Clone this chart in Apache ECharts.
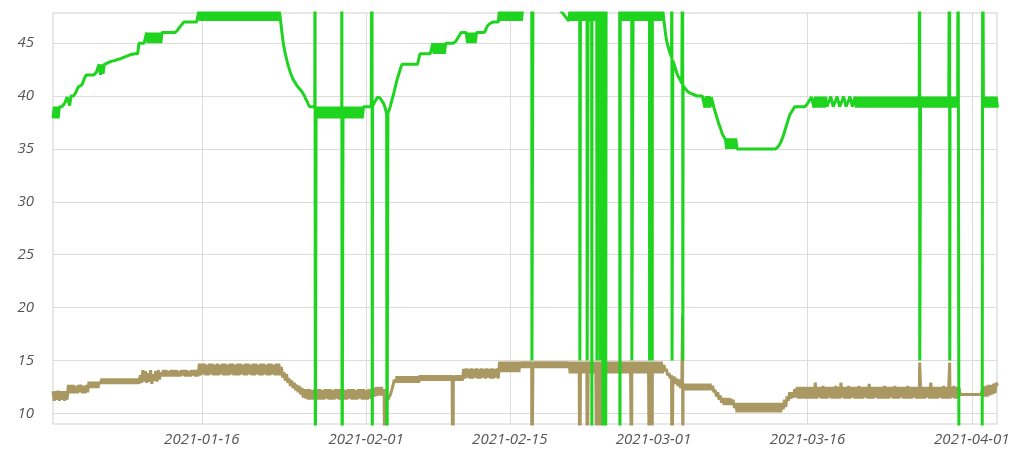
<!DOCTYPE html>
<html>
<head>
<meta charset="utf-8">
<script src="https://cdn.jsdelivr.net/npm/echarts@6/dist/echarts.min.js"></script>
<style>html,body{margin:0;padding:0;background:#fff}#c{width:1036px;height:453px}</style>
</head>
<body>
<div id="c"></div>
<script>
// Samples: day offsets from 2021-01-01, regular step (each row = 2 days)
const sampleStartDay = 0.5;
const sampleStepDays = 0.125;

const greenValues = [
 37.9,39,37.9,39,37.9,39,39,39,39,39.3,39.6,39.9,40,39.1,40,40,
 40,40.2,40.4,40.7,40.9,41,41,41.2,41.5,41.8,42,42,42,42,42,42,
 42,42,42.3,42.7,43,42,43,42.1,43,43.1,43.1,43.2,43.2,43.25,43.3,43.3,
 43.35,43.4,43.45,43.5,43.5,43.55,43.6,43.65,43.7,43.75,43.8,43.85,43.9,43.9,43.95,44,
 44,44,44,45,45,45,45,45,45,46,45,46,45,46,45,46,
 45,46,45,46,45,46,46,46,46,46,46,46,46,46,46,46,
 46.05,46.2,46.4,46.55,46.7,46.85,47,47,47,47,47,47,47,47,47,47,
 47,47.1,48.3,47.1,48.3,47.1,48.3,47.1,48.3,47.1,48.3,47.1,48.3,47.1,48.3,47.1,
 48.3,47.1,48.3,47.1,48.3,47.1,48.3,47.1,48.3,47.1,48.3,47.1,48.3,47.1,48.3,47.1,
 48.3,47.1,48.3,47.1,48.3,47.1,48.3,47.1,48.3,47.1,48.3,47.1,48.3,47.1,48.3,47.1,
 48.3,47.1,48.3,47.1,48.3,47.1,48.3,47.1,48.3,47.1,48.3,47.1,48.3,47.1,48.3,47.1,
 48.3,47.5,46.4,45.4,44.6,44.0,43.5,43.0,42.6,42.2,41.9,41.6,41.4,41.2,41.0,40.85,
 40.7,40.55,40.4,40.2,40.0,39.7,39.5,39.2,39,39,39,39,39,37.9,39,37.9,
 39,37.9,39,37.9,39,37.9,39,37.9,39,37.9,39,37.9,39,37.9,39,37.9,
 39,37.9,39,37.9,39,37.9,39,37.9,39,37.9,39,37.9,39,37.9,39,37.9,
 39,37.9,39,39,39,39,39,39,39,39,39.3,39.5,39.7,39.9,40,39.8,
 39.6,39.4,39.2,38.8,38.3,38.4,38.7,39.1,39.6,40.0,40.5,41.0,41.5,41.9,42.3,42.7,
 43,43,43,43,43,43,43,43,43,43,43,43,43,43,44,44,
 44,44,44,44,44,44,44,44,45,44,45,44,45,44,45,44,
 45,44,45,45,45,45,45,45,45,45,45.2,45.4,45.6,45.8,46,46,
 46,46,46,45,46,45,46,45,46,45,46,46,46,46,46,46,
 46,46.2,46.5,46.7,46.8,46.9,47,47,47,47,47,47,48.3,47.1,48.3,47.1,
 48.3,47.1,48.3,47.1,48.3,47.1,48.3,47.1,48.3,47.1,48.3,47.1,48.3,47.1,48.3,49,
 49,49,49,49,49,49,49,49,49,49,49,49,49,49,49,49,
 49,49,49,49,49,49,49,49,49,49,49,49,48.0,47.85,47.7,47.55,
 47.4,47.25,47.1,48.3,47.1,48.3,47.1,48.3,47.1,48.3,47.1,48.3,47.1,48.3,47.1,48.3,
 47.1,48.3,47.1,48.3,47.1,48.3,47.1,48.3,47.1,48.3,47.1,48.3,47.1,48.3,47.1,48.3,
 49,49,49,49,49,49,49,49,49,49,47.1,48.3,47.1,48.3,47.1,48.3,
 47.1,48.3,47.1,48.3,47.1,48.3,47.1,48.3,47.1,48.3,47.1,48.3,47.1,48.3,47.1,48.3,
 47.1,48.3,47.1,48.3,47.1,48.3,47.1,48.3,47.1,48.3,47.1,48.3,47.2,46.2,45.3,44.8,
 44.4,44.0,43.7,43.35,43.0,42.6,42.2,41.9,41.7,41.45,41.2,41.0,40.8,40.65,40.5,40.4,
 40.3,40.25,40.2,40.15,40.1,40.05,40,40,40,40,40,40,38.9,40,38.9,40,
 38.9,39.9,39.4,38.9,38.5,38.1,37.7,37.3,37.0,36.6,36.3,36.1,35.9,35.0,36,35.0,
 36,35,36,35,36,35,35,35,35,35,35,35,35,35,35,35,
 35,35,35,35,35,35,35,35,35,35,35,35,35,35,35,35,
 35,35,35,35,35,35.2,35.4,35.6,35.9,36.2,36.6,37.0,37.4,37.8,38.2,38.4,
 38.6,38.8,39,39,39,39,39,39,39,39,39,39,39.3,39.5,39.7,39.9,
 40,38.9,39.95,38.9,39.95,38.9,39.95,38.9,39.95,38.9,39.95,39.0,39.3,39.6,39.95,39.95,
 39.0,39.3,39.6,39.95,39.95,39.0,39.3,39.6,39.95,39.95,39.0,39.3,39.6,39.95,39.95,39.0,
 39.5,39.95,38.9,39.95,38.9,39.95,38.9,39.95,38.9,39.95,38.9,39.95,38.9,39.95,38.9,39.95,
 38.9,39.95,38.9,39.95,38.9,39.95,38.9,39.95,38.9,39.95,38.9,39.95,38.9,39.95,38.9,39.95,
 38.9,39.95,38.9,39.95,38.9,39.95,38.9,39.95,38.9,39.95,38.9,39.95,38.9,39.95,38.9,39.95,
 38.9,39.95,38.9,39.95,38.9,39.95,38.9,39.95,38.9,39.95,38.9,39.95,38.9,39.95,38.9,39.95,
 38.9,39.95,38.9,39.95,38.9,39.95,38.9,39.95,38.9,39.95,38.9,39.95,38.9,39.95,38.9,39.95,
 38.9,39.95,0,0,0,0,0,0,0,0,0,0,0,0,0,0,
 0,0,0,0,0,39.95,38.9,39.95,38.9,39.95,38.9,39.95,38.9,39.95,38.9,39.95,
 38.9
];

const tanValues = [
 12.1,11.2,12.1,11.3,12.15,11.2,12.1,11.3,12.1,11.2,12.1,11.3,12.7,11.9,12.7,11.9,
 12.7,11.9,12.6,11.9,12.7,12.0,12.7,11.9,12.6,11.9,12.7,12.0,13.0,12.4,13.0,12.4,
 13.0,12.4,13.0,12.4,13.0,12.8,13.3,12.8,13.3,12.8,13.3,12.8,13.3,12.8,13.3,12.8,
 13.3,12.8,13.3,12.8,13.3,12.8,13.3,12.8,13.3,12.8,13.3,12.8,13.3,12.8,13.3,12.8,
 13.3,12.8,13.3,12.8,13.6,12.9,14.1,13.0,14.0,12.9,13.8,13.0,14.1,12.8,13.7,13.1,
 14.0,13.0,14.1,13.2,13.9,13.5,14.1,13.5,14.1,13.5,14.0,13.5,14.1,13.5,14.1,13.5,
 14.1,13.5,14.0,13.5,14.1,13.6,14.1,13.5,14.1,13.5,14.0,13.5,14.1,13.6,14.1,13.5,
 14.1,13.5,14.7,13.6,14.7,13.7,14.7,13.6,14.6,13.6,14.7,13.7,14.7,13.6,14.6,13.6,
 14.7,13.6,14.6,13.7,14.7,13.6,14.7,13.6,14.6,13.6,14.7,13.7,14.7,13.6,14.6,13.6,
 14.7,13.6,14.7,13.7,14.6,13.6,14.7,13.6,14.7,13.7,14.6,13.6,14.7,13.6,14.7,13.7,
 14.6,13.6,14.7,13.6,14.7,13.7,14.6,13.6,14.7,13.6,14.7,13.7,14.6,13.6,14.7,13.6,
 14.7,13.6,14.4,13.4,13.9,13.1,13.7,12.9,13.3,12.6,13.1,12.4,12.9,12.2,12.7,12.0,
 12.6,11.8,12.4,11.5,12.3,11.4,12.3,11.3,12.3,11.3,12.2,11.3,12.3,11.4,12.3,11.3,
 12.3,11.3,12.2,11.3,12.3,11.4,12.3,11.3,12.3,11.3,12.2,11.3,12.3,11.4,12.3,11.3,
 12.3,11.3,12.3,11.3,12.2,11.3,12.3,11.4,12.3,11.3,12.3,11.3,12.2,11.3,12.3,11.4,
 12.3,11.3,12.3,11.3,12.2,11.3,12.3,11.4,12.3,11.5,12.4,11.6,12.5,11.7,12.5,11.7,
 12.5,11.7,12.3,11.6,11.6,11.3,11.4,11.8,12.2,12.7,13.2,12.9,13.5,12.9,13.5,12.9,
 13.5,12.9,13.5,12.9,13.5,12.9,13.5,12.9,13.5,12.9,13.5,12.9,13.5,12.9,13.6,13.1,
 13.6,13.1,13.6,13.1,13.6,13.1,13.6,13.1,13.6,13.1,13.6,13.1,13.6,13.1,13.6,13.1,
 13.6,13.1,13.6,13.1,13.6,13.1,13.6,13.1,13.6,13.1,13.6,13.1,13.6,13.1,13.6,13.1,
 14.2,13.3,14.25,13.4,14.2,13.3,14.25,13.3,14.2,13.4,14.25,13.3,14.2,13.3,14.25,13.4,
 14.2,13.3,14.25,13.4,14.2,13.3,14.25,13.3,14.2,13.4,14.25,13.3,14.9,13.9,14.9,13.9,
 14.9,13.9,14.9,13.9,14.9,13.9,14.9,13.9,14.9,13.9,14.9,13.9,14.9,14.3,14.9,14.3,
 14.9,14.3,14.9,14.3,14.9,14.3,14.9,14.3,14.9,14.3,14.9,14.3,14.9,14.3,14.9,14.3,
 14.9,14.3,14.9,14.3,14.9,14.3,14.9,14.3,14.9,14.3,14.9,14.3,14.9,14.3,14.9,14.3,
 14.9,14.3,14.9,13.8,14.9,13.8,14.9,13.8,14.9,13.8,14.9,13.8,14.9,13.8,14.9,13.8,
 14.9,13.8,14.9,13.8,14.9,13.8,14.9,13.8,14.9,13.8,14.9,13.8,14.9,13.8,14.9,13.8,
 14.9,13.8,14.9,13.8,14.9,13.8,14.9,13.8,14.9,13.8,14.9,13.8,14.9,13.8,14.9,13.8,
 14.9,13.8,14.9,13.8,14.9,13.8,14.9,13.8,14.9,13.8,14.9,13.8,14.9,13.8,14.9,13.8,
 14.9,13.8,14.9,13.8,14.9,13.8,14.9,13.8,14.9,13.8,14.9,13.8,14.6,14.0,14.2,13.6,
 13.8,13.3,13.6,13.0,13.5,12.8,13.3,12.6,13.2,12.4,13.0,12.3,12.8,12.2,12.8,12.2,
 12.8,12.2,12.8,12.2,12.8,12.2,12.8,12.2,12.8,12.2,12.8,12.2,12.8,12.2,12.8,12.2,
 12.8,12.2,12.6,12.0,12.2,11.6,12.0,11.3,11.7,11.0,11.45,10.8,11.45,10.8,11.45,10.8,
 11.4,10.8,11.3,10.5,11.0,10.1,11.0,10.1,11.0,10.1,11.0,10.1,11.0,10.1,11.0,10.1,
 11.0,10.1,11.0,10.1,11.0,10.1,11.0,10.1,11.0,10.1,11.0,10.1,11.0,10.1,11.0,10.1,
 11.0,10.1,11.0,10.1,11.0,10.1,11.0,10.1,11.0,10.4,11.3,10.6,11.6,11.2,12.0,11.4,
 12.0,11.5,12.3,11.5,12.5,11.4,12.5,11.4,12.5,11.4,12.5,11.4,12.5,11.4,12.5,11.4,
 12.5,11.4,12.9,11.4,12.5,11.5,12.5,11.4,12.6,11.4,12.5,11.4,12.5,11.5,12.5,11.4,
 12.5,11.4,12.6,11.4,12.5,11.4,12.9,11.5,12.5,11.4,12.5,11.4,12.6,11.4,12.5,11.5,
 12.5,11.4,12.5,11.4,12.6,11.4,12.5,11.4,12.5,11.5,12.5,11.4,12.8,11.4,12.5,11.4,
 12.5,11.5,12.5,11.4,12.5,11.4,12.5,11.4,12.6,11.4,12.5,11.4,12.5,11.5,12.5,11.4,
 12.6,11.4,12.5,11.4,12.5,11.5,12.5,11.4,12.5,11.4,12.6,11.4,12.5,11.4,12.5,11.5,
 12.5,11.4,12.5,11.4,12.6,11.4,12.5,11.4,12.5,11.5,12.5,11.4,12.9,11.4,12.5,11.4,
 12.5,11.4,12.5,11.5,12.5,11.4,12.6,11.4,12.5,11.4,12.5,11.4,12.5,11.5,12.6,11.4,
 12.5,11.4,12.4,11.8,11.8,11.8,11.8,11.8,11.8,11.8,11.8,11.8,11.8,11.8,11.8,11.8,
 11.8,11.8,11.8,11.8,11.8,12.5,11.6,12.6,11.6,12.7,11.7,12.7,11.8,12.8,11.9,12.9,
 12.6
];

// Glitch readings: [day offset, value]
const greenSpikes = [
 [26.02,60],[26.05,0],
 [28.63,60],[28.66,0],
 [31.57,60],[31.6,0],
 [33.03,0],
 [47.13,60],[47.15,15],
 [51.8,60],[51.82,15],
 [52.51,60],[52.53,15],
 [52.96,60],[52.99,0],
 [53.46,60],[53.48,15],
 [53.77,60],[53.79,15],
 [54.05,60],[54.08,0],
 [54.3,60],[54.33,0],
 [55.69,60],[55.72,0],
 [56.86,60],[56.88,15],
 [58.6,60],[58.61,15],
 [58.84,60],[58.86,15],
 [60.78,60],[60.8,15],
 [61.83,60],[61.85,15],
 [84.91,60],[84.93,15],
 [87.83,60],[87.85,15],
 [88.66,60],
 [91.06,60]
];
const tanSpikes = [
 [32.84,0],[39.45,0],[47.14,0],[51.81,0],[52.52,0],[53.47,0],[53.78,0],
 [56.87,0],[58.605,0],[58.85,0],[60.79,0],[61.82,19.3],[61.845,0],
 [84.92,14.8],[87.84,14.8]
];

const xTickDates = ['2021-01-16','2021-02-01','2021-02-15','2021-03-01','2021-03-16','2021-04-01'];
const yTickValues = [10,15,20,25,30,35,40,45];
const axisStartDay = 0.5, axisEndDay = 92.45;
const yMin = 9, yMax = 47.85;

const DAY = 86400000;
const base = new Date(2021, 0, 1).getTime();
const toTime = d => base + d * DAY;
const parseDate = s => { const p = s.split('-').map(Number); return new Date(p[0], p[1]-1, p[2]).getTime(); };
function build(values, spikes) {
  const pts = values.map((v, i) => [sampleStartDay + i * sampleStepDays, v]);
  spikes.forEach(p => pts.push(p));
  pts.sort((a, b) => a[0] - b[0]);
  return pts.map(p => [toTime(p[0]), p[1]]);
}
const pad = n => (n < 10 ? '0' : '') + n;
const fmtDate = v => { const d = new Date(Math.round(v)); return d.getFullYear() + '-' + pad(d.getMonth()+1) + '-' + pad(d.getDate()); };

const xTicks = xTickDates.map(parseDate);
const labelStyle = { color: '#555', fontStyle: 'italic', fontFamily: 'Open Sans', fontSize: 15 };
const gridLine = { show: true, lineStyle: { color: '#dcdcdc', width: 1 } };

const chart = echarts.init(document.getElementById('c'), null, { renderer: 'canvas' });
chart.setOption({
  animation: false,
  backgroundColor: '#fff',
  grid: { left: 53, right: 39, top: 13, bottom: 29, show: true, borderColor: '#cfcfcf', borderWidth: 1, containLabel: false, outerBoundsMode: 'none' },
  xAxis: {
    type: 'value', min: toTime(axisStartDay), max: toTime(axisEndDay), scale: true,
    axisLine: { show: false },
    axisTick: { show: false, customValues: xTicks },
    axisLabel: Object.assign({ customValues: xTicks, formatter: fmtDate, margin: 8 }, labelStyle),
    splitLine: gridLine
  },
  yAxis: {
    type: 'value', min: yMin, max: yMax,
    axisLine: { show: false },
    axisTick: { show: false, customValues: yTickValues },
    axisLabel: Object.assign({ customValues: yTickValues, margin: 19 }, labelStyle),
    splitLine: gridLine
  },
  series: [
    { type: 'line', name: 'tan', data: build(tanValues, tanSpikes), showSymbol: false, symbol: 'none', clip: true,
      lineStyle: { color: '#aa9862', width: 3 }, itemStyle: { color: '#aa9862' } },
    { type: 'line', name: 'green', data: build(greenValues, greenSpikes), showSymbol: false, symbol: 'none', clip: true,
      lineStyle: { color: '#1fd41f', width: 3 }, itemStyle: { color: '#1fd41f' } }
  ]
});
</script>
</body>
</html>
